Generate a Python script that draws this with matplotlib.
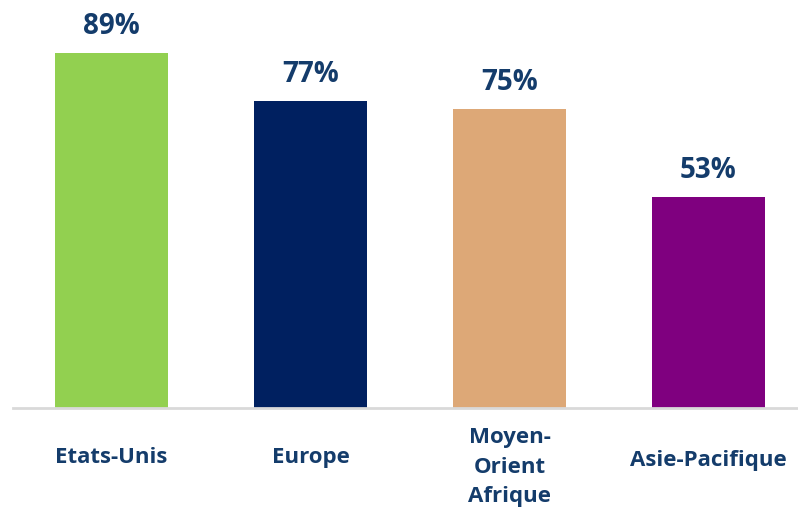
import matplotlib
matplotlib.use('Agg')
import matplotlib.pyplot as plt
import matplotlib.transforms as mtransforms

# Data
regions = ['Etats-Unis', 'Europe', 'Moyen-\nOrient\nAfrique', 'Asie-Pacifique']
values = [89, 77, 75, 53]
colors = ['#92D050', '#002060', '#DDA877', '#7F007F']
text_color = '#143C6B'

plt.rcParams['font.family'] = ['Open Sans', 'DejaVu Sans']

fig = plt.figure(figsize=(7.98, 5.11), dpi=100)
ax = fig.add_axes([13 / 798, 103 / 511, 785 / 798, 399 / 511])

x = list(range(len(regions)))
bars = ax.bar(x, values, width=0.57, color=colors, zorder=2)

# value labels above bars
for xi, v in zip(x, values):
    ax.annotate(f'{v}%', xy=(xi, v), xytext=(0, 19), textcoords='offset points',
                ha='center', va='center', fontsize=20, fontweight='bold', color=text_color)

# category labels below the axis (pixel centres)
label_y = [457, 457, 467, 460]
trans = mtransforms.blended_transform_factory(ax.transData, ax.transAxes)
for xi, name, yp in zip(x, regions, label_y):
    ax.text(xi, (408 - yp) / 399, name, transform=trans, ha='center', va='center',
            fontsize=16, fontweight='bold', color=text_color, linespacing=1.55)

ax.set_xlim(-0.495, 3.45)
ax.set_ylim(0, 100)
ax.set_xticks([])
ax.set_yticks([])

for side in ['top', 'right', 'left']:
    ax.spines[side].set_visible(False)
ax.spines['bottom'].set_color('#D9D9D9')
ax.spines['bottom'].set_linewidth(2)

fig.savefig('out.png', dpi=100)
